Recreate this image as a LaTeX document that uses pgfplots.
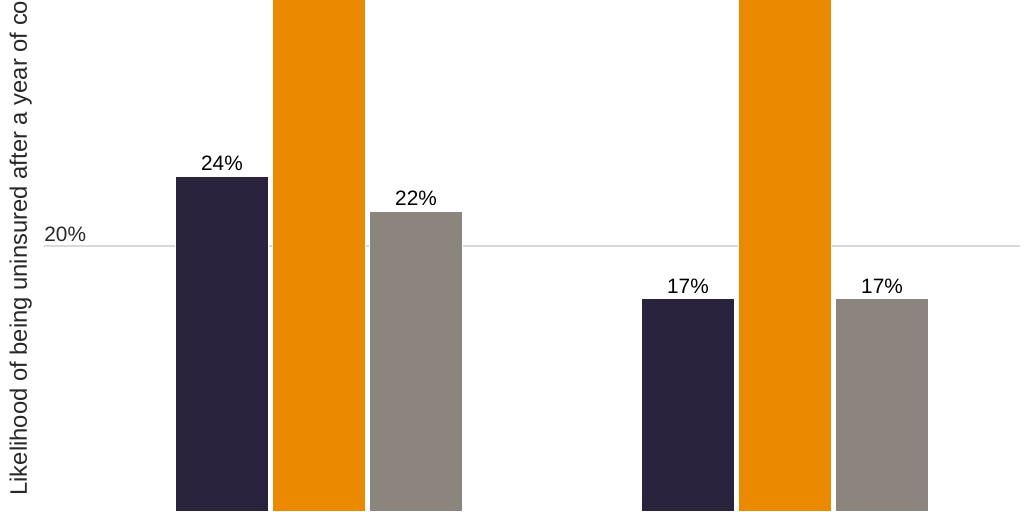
\documentclass[border=0pt]{standalone}
\usepackage{pgfplots}
\pgfplotsset{compat=1.18}
\usepackage{fontspec}
\setmainfont{Liberation Sans}
\definecolor{cdark}{RGB}{41,35,62}
\definecolor{corange}{RGB}{235,138,0}
\definecolor{cgray}{RGB}{140,133,126}
\definecolor{cgrid}{RGB}{217,217,217}
\definecolor{ctext}{RGB}{40,40,40}
\begin{document}
\begin{tikzpicture}
\path[use as bounding box] (0,0) rectangle (512pt,256pt);
\begin{scope}[overlay]
\clip (0,0) rectangle (512pt,256pt);
\begin{axis}[
    at={(22pt,0pt)}, anchor=south west,
    scale only axis,
    width=488pt, height=256pt,
    xmin=-0.5901, xmax=1.5043,
    ymin=4.8, ymax=34.057,
    axis line style={draw=none},
    tick style={draw=none},
    ytick={20},
    yticklabels={},
    ymajorgrids=true,
    major grid style={cgrid, line width=0.9pt},
    xtick=\empty,
    ybar,
    bar width=0.199,
    clip=true,
    /pgf/number format/assume math mode=true,
    nodes near coords={\pgfmathprintnumber{\pgfplotspointmeta}\%},
    every node near coord/.append style={font=\fontsize{10.4}{12}\selectfont, text=black, anchor=south, yshift=-1pt},
]
\addplot[fill=cdark, draw=white, line width=0.6pt, bar shift=-0.2082]
    coordinates {(0,24) (1,17)};
\addplot[fill=corange, draw=white, line width=0.6pt, bar shift=0, nodes near coords={}]
    coordinates {(0,40) (1,40)};
\addplot[fill=cgray, draw=white, line width=0.6pt, bar shift=0.2082]
    coordinates {(0,22) (1,17)};
\end{axis}
\node[anchor=south west, font=\fontsize{10.4}{12}\selectfont, text=ctext, inner sep=0pt] at (22pt,135pt) {20\%};
\node[rotate=90, anchor=west, font=\fontsize{11.9}{13}\selectfont, text=ctext, inner sep=0pt] at (10.3pt,8pt) {Likelihood of being uninsured after a year of continuous coverage};
\end{scope}
\end{tikzpicture}
\end{document}
